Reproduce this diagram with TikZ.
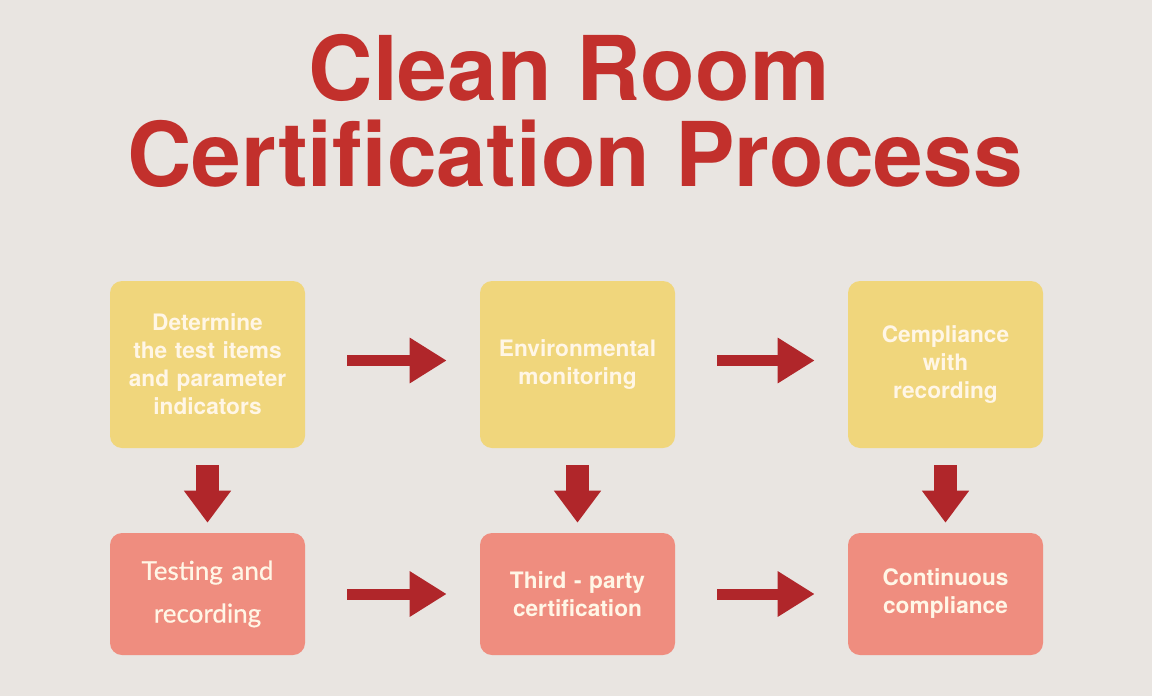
\documentclass[tikz,border=0pt]{standalone}
\usepackage{fontspec}
\setmainfont{TeX Gyre Heros}
\newfontfamily\latofont[FakeBold=0.6]{Lato}
\usetikzlibrary{arrows.meta}
\definecolor{bgcol}{HTML}{E9E5E1}
\definecolor{titlered}{HTML}{C2302C}
\definecolor{arrowred}{HTML}{B0262A}
\definecolor{boxyellow}{HTML}{F0D67C}
\definecolor{boxpink}{HTML}{EF8D7F}
\definecolor{boxtext}{HTML}{FFF6E6}

\begin{document}
\begin{tikzpicture}[x=0.75pt,y=-0.75pt,
    stepbox/.style={rounded corners=9pt, inner sep=0pt, text width=146.25pt, align=center,
      text=boxtext, font=\bfseries\fontsize{17}{21}\selectfont},
    topbox/.style={stepbox, fill=boxyellow, minimum height=125.25pt},
    lowbox/.style={stepbox, fill=boxpink, minimum height=91.5pt},
    harrow/.style={draw=arrowred, line width=8.25pt, -{Triangle[length=27.75pt,width=32.25pt]},
      shorten <=31.5pt, shorten >=24.75pt},
    varrow/.style={draw=arrowred, line width=17.25pt, -{Triangle[length=24pt,width=33.75pt]},
      shorten <=12.75pt, shorten >=7.5pt}]
    \fill[bgcol] (0,0) rectangle (1152,696);
    \useasboundingbox (0,0) rectangle (1152,696);
    \node[anchor=base, text=titlered, font=\bfseries\fontsize{67}{64.5}\selectfont] (title1) at (569,100) {Clean Room};
    \node[anchor=base, text=titlered, font=\bfseries\fontsize{67}{64.5}\selectfont] (title2) at (575,186) {Certification Process};
    \node[topbox] (determine) at (207.5,364.5) {Determine\\the test items\\and parameter\\indicators};
    \node[topbox] (monitor) at (577.5,364.5) {Environmental\\monitoring};
    \node[topbox] (complrec) at (945.5,364.5) {Cempliance\\with\\recording};
    \node[lowbox, font=\latofont\fontsize{19.5}{32}\selectfont] (testing) at (207.5,594) {Testing and\\recording};
    \node[lowbox] (thirdparty) at (577.5,594) {Third - party\\certification};
    \node[lowbox] (continuous) at (945.5,594) {Continuous\\compliance};
    \draw [harrow] ([yshift=3pt]determine.east) to ([yshift=3pt]monitor.west);
    \draw [harrow] ([yshift=3pt]monitor.east) to ([yshift=3pt]complrec.west);
    \draw [harrow] (testing) to (thirdparty);
    \draw [harrow] (thirdparty) to (continuous);
    \draw [varrow] (determine) to (testing);
    \draw [varrow] (monitor) to (thirdparty);
    \draw [varrow] (complrec) to (continuous);
  \end{tikzpicture}
\end{document}
